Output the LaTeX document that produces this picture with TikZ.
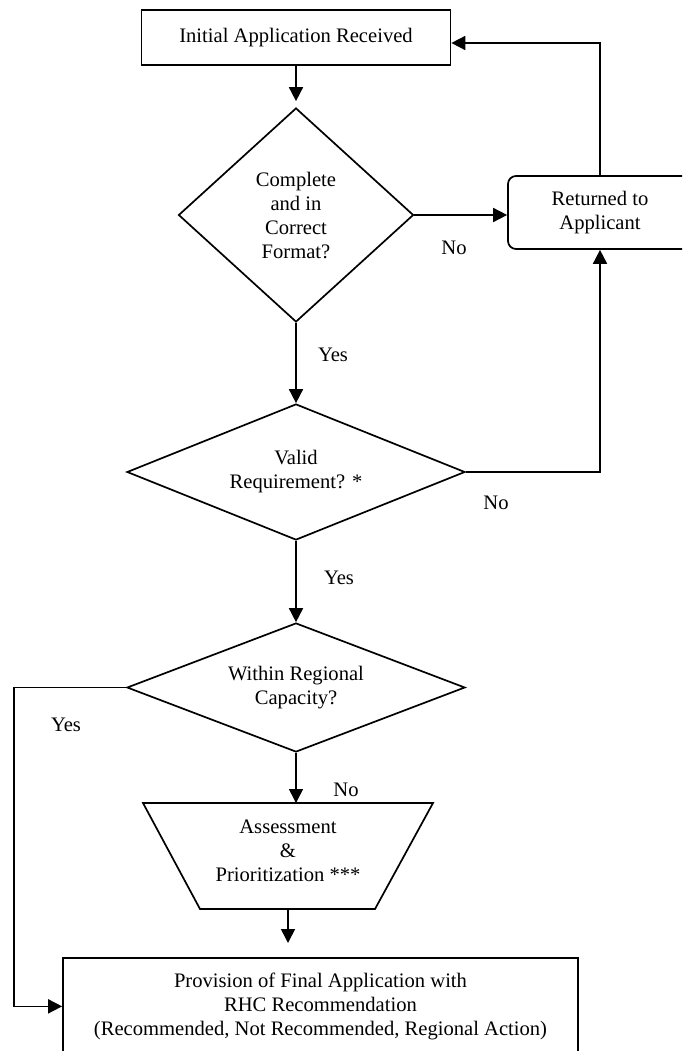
\documentclass[tikz,border=0pt]{standalone}
\usepackage{fontspec}
\setmainfont{Liberation Serif}
\usetikzlibrary{shapes.geometric,arrows.meta}
\begin{document}
\begin{tikzpicture}[x=1pt,y=-1pt,
  every node/.style={font=\fontsize{20.6}{24}\selectfont},
  ln/.style={line width=1.7pt},
  arr/.style={ln,-{Triangle[length=14pt,width=14pt]}},
  procbox/.style={draw,line width=1.7pt,rectangle,inner sep=0pt,align=center},
  decision/.style={draw,line width=1.7pt,diamond,inner sep=0pt,align=center},
  lbl/.style={inner sep=0pt}]
\useasboundingbox (0,0) rectangle (682,1051);
\clip (0,0) rectangle (682,1051);

% nodes
\node[procbox, minimum width=309pt, minimum height=55pt] (init) at (296,37.5) {Initial Application Received};
\node[decision, aspect=1.1, minimum width=235pt, minimum height=214pt] (d1) at (296,215) {Complete\\and in\\Correct\\Format?};
\node[procbox, rounded corners=8pt, minimum width=184pt, minimum height=73pt] (ret) at (600,212.5) {Returned to\\Applicant};
\node[decision, aspect=2.5, minimum width=338pt, minimum height=136pt] (d2) at (296,472) {Valid\\Requirement? *};
\node[decision, aspect=2.5, minimum width=338pt, minimum height=129pt] (d3) at (296,687.5) {Within Regional\\Capacity?};

% trapezoid (assessment)
\draw[ln] (143,803) -- (433,803) -- (375,909) -- (200,909) -- cycle;
\node[align=center, inner sep=0pt] (ap) at (288,851) {Assessment\\\&\\Prioritization ***};
\coordinate (aptop) at (296,803);
\coordinate (apbot) at (288,909);

\node[procbox, minimum width=515pt, minimum height=97pt, anchor=north] (fin) at (320.5,957) {Provision of Final Application with\\RHC Recommendation\\(Recommended, Not Recommended, Regional Action)};

% connectors
\draw[arr, shorten >=6pt] (init.south) -- (d1.north);
\draw[arr] (d1.east) -- (d1.east -| ret.west);
\draw[arr] (d1.south) -- (d2.north);
\draw[arr] (d2.east) -| (ret.south);
\draw[arr] (ret.north) |- ([yshift=-5.5pt]init.east);
\draw[arr] (d2.south) -- (d3.north);
\coordinate (corner) at (14,687.5);
\draw[arr] (d3.west) -- (corner) |- (fin.west);
\draw[arr] (d3.south) -- (aptop);
\draw[arr, shorten >=14pt] (apbot) -- (apbot |- fin.north);

% labels
\node[lbl] (yes1) at (333,355) {Yes};
\node[lbl] (no1) at (454,248) {No};
\node[lbl] (no2) at (496,503) {No};
\node[lbl] (yes2) at (339,578) {Yes};
\node[lbl] (yes3) at (66,725) {Yes};
\node[lbl] (no3) at (346,790) {No};
\end{tikzpicture}
\end{document}
